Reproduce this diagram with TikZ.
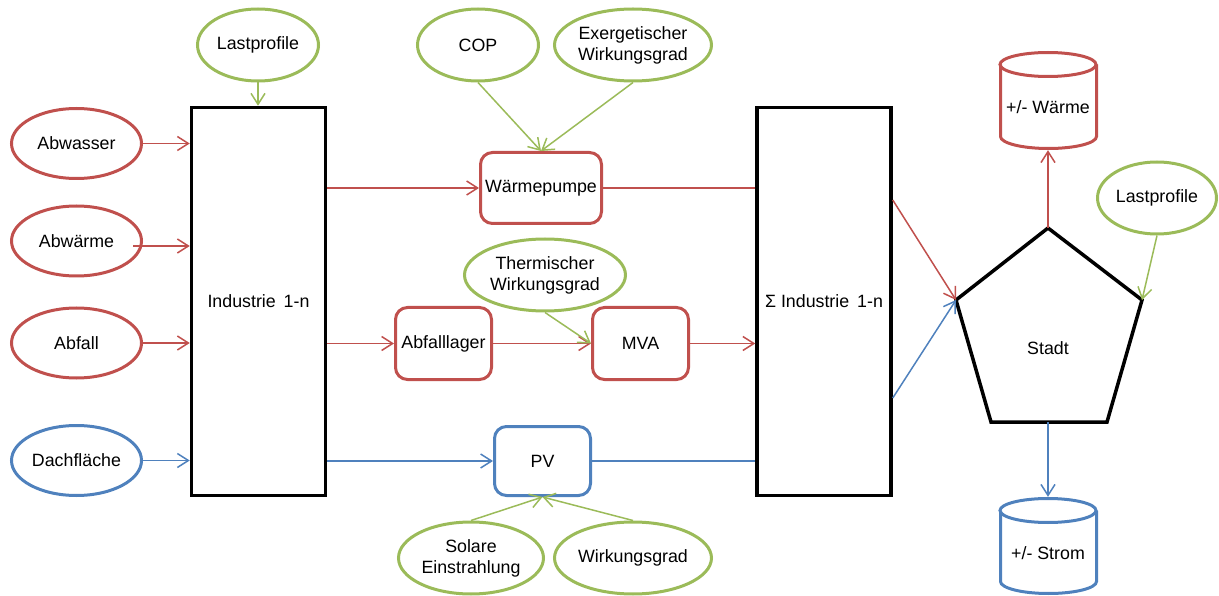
\documentclass[tikz,border=0pt]{standalone}
\usepackage{fontspec}
\setmainfont{Liberation Sans}
\usetikzlibrary{shapes.geometric,arrows.meta,calc}
\definecolor{cred}{HTML}{C0504D}
\definecolor{cgreen}{HTML}{9BBB59}
\definecolor{cblue}{HTML}{4F81BD}
\begin{document}
\begin{tikzpicture}[x=1pt,y=-1pt,
  font=\fontsize{17.8}{21}\selectfont,
  oval/.style={ellipse, draw, line width=3pt, inner sep=0pt, align=center},
  redoval/.style={oval, draw=cred, minimum width=130pt, minimum height=70pt},
  blueoval/.style={oval, draw=cblue, minimum width=130pt, minimum height=70pt},
  greenoval/.style={oval, draw=cgreen, minimum height=72pt},
  rbox/.style={draw, rounded corners=12pt, line width=3pt, inner sep=0pt, align=center},
  bigbox/.style={draw=black, line width=3.5pt, minimum width=134pt, minimum height=388pt, inner sep=0pt},
  conn/.style={line width=1.5pt},
  arr/.style={conn, -{Straight Barb[length=11pt,width=14pt]}},
  cyl/.style={line width=3pt}
]
\useasboundingbox (0,0) rectangle (1219,596);

% left inputs
\node[redoval] (abwasser) at (76.5,143.5) {Abwasser};
\node[redoval] (abwaerme) at (76.5,241) {Abwärme};
\node[redoval] (abfall) at (76.5,343) {Abfall};
\node[blueoval] (dach) at (76.5,460.5) {Dachfläche};

% big boxes
\node[bigbox] (ind) at (258.5,301.5) {Industrie\,\ 1-n};
\node[bigbox] (sigma) at (824,301.5) {Σ Industrie\,\ 1-n};

% green parameter ovals
\node[greenoval, minimum width=121pt] (lp1) at (258,45) {Lastprofile};
\node[greenoval, minimum width=121pt] (cop) at (478,45) {COP};
\node[greenoval, minimum width=157pt] (exerg) at (633,45) {Exergetischer\\Wirkungsgrad};
\node[greenoval, minimum width=161pt] (therm) at (545,275) {Thermischer\\Wirkungsgrad};
\node[greenoval, minimum width=145pt] (solar) at (471,558) {Solare\\Einstrahlung};
\node[greenoval, minimum width=157pt] (wirk) at (633,558) {Wirkungsgrad};
\node[greenoval, minimum width=119pt] (lp2) at (1157,198) {Lastprofile};

% process boxes
\node[rbox, draw=cred, minimum width=121pt, minimum height=71pt] (wp) at (541,188) {Wärmepumpe};
\node[rbox, draw=cred, minimum width=96pt, minimum height=72pt] (lager) at (443.5,343.5) {Abfalllager};
\node[rbox, draw=cred, minimum width=96pt, minimum height=72pt] (mva) at (640.5,343.5) {MVA};
\node[rbox, draw=cblue, minimum width=96pt, minimum height=69pt] (pv) at (542.5,461) {PV};

% Stadt pentagon
\coordinate (pt) at (1048,228);
\coordinate (pl) at (956,300);
\coordinate (pr) at (1142,300);
\coordinate (pbl) at (991,422);
\coordinate (pbr) at (1107,422);
\coordinate (pb) at (1048,422);
\draw[line width=3.5pt, line join=miter] (pt) -- (pr) -- (pbr) -- (pbl) -- (pl) -- cycle;
\node (stadt) at (1048,348) {Stadt};

% cylinders
\draw[cyl, draw=cred] (1000.5,64.5) -- (1000.5,136.5) arc[start angle=180, end angle=360, x radius=48pt, y radius=12pt] -- (1096.5,64.5);
\draw[cyl, draw=cred] (1048,64.5) ellipse [x radius=48pt, y radius=12pt];
\node[minimum width=99pt, minimum height=86pt, inner sep=0pt] (waerme) at (1048,107) {+/- Wärme};

\draw[cyl, draw=cblue] (1000.5,510.5) -- (1000.5,581.5) arc[start angle=180, end angle=360, x radius=48pt, y radius=12pt] -- (1096.5,510.5);
\draw[cyl, draw=cblue] (1048,510.5) ellipse [x radius=48pt, y radius=12pt];
\node[minimum width=99pt, minimum height=112pt, inner sep=0pt] (strom) at (1048,553) {+/- Strom};

% connectors: inputs to Industrie
\draw[arr, cred] (abwasser.east) -- (abwasser.east -| ind.west);
\draw[arr, cred] ([xshift=-10pt,yshift=-5pt]abwaerme.east) -- ([yshift=-5pt]abwaerme.east -| ind.west);
\draw[arr, cred] (abfall.east) -- (abfall.east -| ind.west);
\draw[arr, cblue] (dach.east) -- (dach.east -| ind.west);
\draw[arr, cgreen] (lp1.south) -- (lp1.south |- ind.north);

% Industrie to processes
\draw[arr, cred] (wp.west -| ind.east) -- (wp.west);
\draw[arr, cred] (lager.west -| ind.east) -- (lager.west);
\draw[arr, cblue] (pv.west -| ind.east) -- (pv.west);
\draw[arr, cred] (lager.east) -- (mva.west);

% parameters to processes
\draw[arr, cgreen] (cop.south) -- (wp.north);
\draw[arr, cgreen] (exerg.south) -- (wp.north);
\draw[arr, cgreen] (therm.south) -- (mva.west);
\draw[arr, cgreen] (solar.north) -- (pv.south);
\draw[arr, cgreen] (wirk.north) -- (pv.south);

% processes to Sigma
\draw[conn, cred] (wp.east) -- (wp.east -| sigma.west);
\draw[arr, cred] (mva.east) -- (mva.east -| sigma.west);
\draw[conn, cblue] (pv.east) -- (pv.east -| sigma.west);

% Sigma to Stadt
\draw[arr, cred] ([yshift=101.5pt]sigma.east) -- (pl);
\draw[arr, cblue] ([yshift=-96.5pt]sigma.east) -- (pl);
\draw[arr, cgreen] (lp2.south) -- (pr);
\draw[arr, cred] (pt) -- (waerme.south);
\draw[arr, cblue] (pb) -- (strom.north);
\end{tikzpicture}
\end{document}
